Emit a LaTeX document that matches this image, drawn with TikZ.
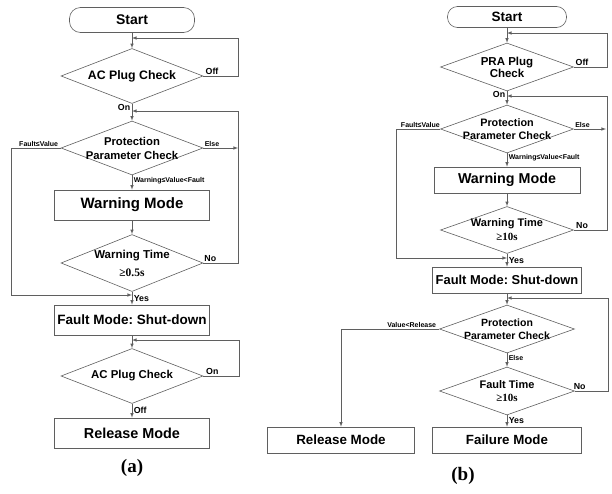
\documentclass[tikz,border=0pt]{standalone}
\usepackage{fontspec}
\setmainfont{Liberation Sans}
\newfontfamily\timesfont{Liberation Serif}
\usepackage{xcolor}
\usetikzlibrary{arrows}
\usetikzlibrary{shapes.geometric}
\definecolor{linegray}{RGB}{95,95,95}
\newcommand{\fsize}[2]{\fontsize{#1}{#2}\selectfont}
\tikzset{
  startbox/.style={draw=linegray, rounded corners=11pt, minimum width=125pt,
    minimum height=25pt, inner sep=0pt, font=\bfseries\fsize{14}{16}},
  modebox/.style={draw=linegray, rectangle, minimum width=155pt,
    minimum height=30pt, inner sep=0pt},
  check/.style={draw=linegray, diamond, minimum width=142pt,
    minimum height=55pt, inner sep=0pt},
  ctext/.style={font=\bfseries\fsize{11.3}{14}, align=center, inner sep=0pt},
  flow/.style={draw=linegray, ->},
  lbl/.style={font=\bfseries\fsize{8.8}{9}, inner sep=1.5pt},
  condlbl/.style={font=\bfseries\fsize{7}{8}, inner sep=1.5pt},
  figlbl/.style={font=\timesfont\bfseries\fsize{19}{20}}
}
\begin{document}
\frenchspacing
\begin{tikzpicture}[x=1pt,y=-1pt,>=latex,line width=0.6pt]
 \useasboundingbox (0,0) rectangle (612,493);
 %\draw [help lines] (0,0) grid [step=50] (612,493);
 % (a)
 \node[startbox] (startA) at (132,20) {Start};
 \node[check, label={[ctext,font=\bfseries\fsize{12.3}{14}]center:AC Plug Check}] (plugA) at (132,76) {};
 \node[check, minimum height=54pt, label={[ctext]center:Protection\\Parameter Check}] (protA) at (132,148) {};
 \node[modebox, font=\bfseries\fsize{15}{16}] (warnA) at (132,205) {Warning Mode};
 \node[check, minimum height=57pt, label={[ctext,font=\bfseries\fsize{11.5}{18}]center:Warning Time\\{\timesfont ≥0.5s}}] (timeA) at (132,263) {};
 \node[modebox, font=\bfseries\fsize{13.5}{15}] (faultA) at (132,320) {Fault Mode: Shut-down};
 \node[check, label={[ctext,font=\bfseries\fsize{11.4}{14}]center:AC Plug Check}] (plugAA) at (132,376) {};
 \node[modebox, font=\bfseries\fsize{14.4}{16}] (relA) at (132,433) {Release Mode};
 \node[figlbl] (capA) at (132,468) {(a)};
 \coordinate (inA1) at (132,38);
 \coordinate (inA2) at (132,111);
 \coordinate (inA3) at (132,295);
 \coordinate (inA4) at (132,340);
 \coordinate (elseA) at (238,148);
 %
 \draw[flow] (startA) -- (plugA);
 \draw[flow] (plugA.east) -- node[lbl,above,pos=0.25]{Off} ++(35,0) |- (inA1);
 \draw[flow] (plugA) -- node[lbl,left,pos=0.2]{On} (protA);
 \draw[flow] (protA.east) -- node[condlbl,above,pos=0.25]{Else} (elseA);
 \draw[flow] (protA.west) -- node[condlbl,above,pos=0.45]{Fault≤Value} ++(-49,0) |- (inA3);
 \draw[flow] (protA) -- node[condlbl,right,pos=0.35]{Warning≤Value<Fault} (warnA);
 \draw[flow] (warnA) -- (timeA);
 \draw[flow] (timeA.east) -- node[lbl,above,pos=0.2]{No} ++(35,0) |- (inA2);
 \draw[flow] (timeA) -- node[lbl,right]{Yes} (faultA);
 \draw[flow] (faultA) -- (plugAA);
 \draw[flow] (plugAA.east) -- node[lbl,above,pos=0.25]{On} ++(36,0) |- (inA4);
 \draw[flow] (plugAA) -- node[lbl,right,pos=0.45]{Off} (relA);
 % (b)
 \node[startbox, minimum width=119pt, minimum height=21pt, rounded corners=10pt, font=\bfseries\fsize{13.5}{15}] (startB) at (507,17) {Start};
 \node[check, minimum width=133pt, minimum height=48pt, label={[ctext,font=\bfseries\fsize{11.5}{12}]center:PRA Plug\\Check}] (plugB) at (507,67) {};
 \node[check, minimum width=133pt, minimum height=48pt, label={[ctext,font=\bfseries\fsize{10.8}{12.5}]center:Protection\\Parameter Check}] (protB) at (507,129) {};
 \node[modebox, minimum width=146pt, minimum height=26pt, font=\bfseries\fsize{14.3}{15}] (warnB) at (507,180) {Warning Mode};
 \node[check, minimum width=133pt, minimum height=47pt, label={[ctext,font=\bfseries\fsize{11}{14}]center:Warning Time\\{\timesfont ≥10s}}] (timeB) at (507,230) {};
 \node[modebox, minimum width=149pt, minimum height=26pt, font=\bfseries\fsize{12.9}{14}] (faultB) at (507,280) {Fault Mode: Shut-down};
 \node[check, minimum width=135pt, minimum height=48pt, label={[ctext,font=\bfseries\fsize{10.5}{13}]center:Protection\\Parameter Check}] (protBB) at (507,329) {};
 \node[check, minimum width=135pt, minimum height=48pt, label={[ctext,font=\bfseries\fsize{11}{13}]center:Fault Time\\{\timesfont ≥10s}}] (ftimeB) at (507,391) {};
 \node[modebox, minimum width=147pt, minimum height=26pt, font=\bfseries\fsize{13.4}{15}] (relB) at (341,440) {Release Mode};
 \node[modebox, minimum width=149pt, minimum height=26pt, font=\bfseries\fsize{13.3}{15}] (failB) at (507,440) {Failure Mode};
 \node[figlbl] (capB) at (463,476) {(b)};
 \coordinate (inB1) at (507,33);
 \coordinate (inB2) at (507,96);
 \coordinate (inB3) at (507,258);
 \coordinate (inB4) at (507,298);
 \coordinate (elseB) at (606,129);
 %
 \draw[flow] (startB) -- (plugB);
 \draw[flow] (plugB.east) -- node[lbl,above,pos=0.25]{Off} ++(33,0) |- (inB1);
 \draw[flow] (plugB) -- node[lbl,left,pos=0.2]{On} (protB);
 \draw[flow] (protB.east) -- node[condlbl,above,pos=0.27]{Else} (elseB);
 \draw[flow] (protB.west) -- node[condlbl,above,pos=0.45]{Fault≤Value} ++(-44,0) |- (inB3);
 \draw[flow] (protB) -- node[condlbl,right,pos=0.3]{Warning≤Value<Fault} (warnB);
 \draw[flow] (warnB) -- (timeB);
 \draw[flow] (timeB.east) -- node[lbl,above,pos=0.25]{No} ++(33,0) |- (inB2);
 \draw[flow] (timeB) -- node[lbl,right]{Yes} (faultB);
 \draw[flow] (faultB) -- (protBB);
 \draw[flow] (protBB.west) -| node[condlbl,above,pos=0.14]{Value<Release} (relB);
 \draw[flow] (protBB) -- node[condlbl,right,pos=0.35]{Else} (ftimeB);
 \draw[flow] (ftimeB.east) -- node[lbl,above,pos=0.15]{No} ++(33,0) |- (inB4);
 \draw[flow] (ftimeB) -- node[lbl,right]{Yes} (failB);
\end{tikzpicture}
\end{document}
